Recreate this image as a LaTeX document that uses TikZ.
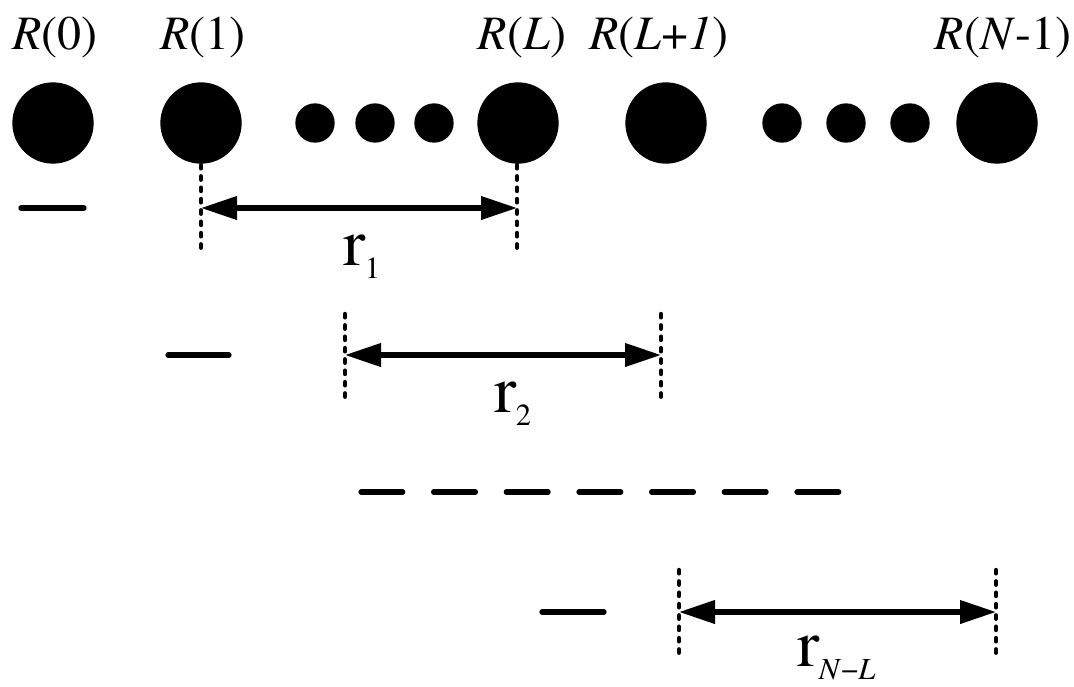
\documentclass[tikz,border=0pt]{standalone}
\usepackage{fontspec}
\setmainfont{texgyretermes}[Extension=.otf, UprightFont=*-regular, ItalicFont=*-italic, BoldFont=*-bold]
\usetikzlibrary{arrows.meta}

\tikzset{
  bigdot/.style={circle, fill=black, inner sep=0pt, minimum size=61pt},
  smalldot/.style={circle, fill=black, inner sep=0pt, minimum size=29.5pt},
  site label/.style={anchor=base, inner sep=0pt, font=\fontsize{36}{36}\selectfont},
  span label/.style={anchor=base west, inner sep=0pt},
  guide/.style={line width=3.3pt, line cap=round, dash pattern=on 2.5pt off 6pt},
  span/.style={line width=3.8pt, {Triangle[length=27pt,width=17pt]}-{Triangle[length=27pt,width=17pt]}},
  tick/.style={line width=4pt, line cap=round},
  rows/.style={line width=4pt, line cap=round, dash pattern=on 31.3pt off 23.2pt}
}
\newcommand{\spanlabel}[1]{{\fontsize{50}{50}\selectfont r}\kern-0.5pt\raisebox{-10pt}{\fontsize{23}{23}\selectfont #1}}

\begin{document}
\begin{tikzpicture}[x=0.75pt, y=-0.75pt]
    \useasboundingbox (0,0) rectangle (1074,686);
    % Sites of the chain
    \node[bigdot] (site 0) at (53,123) {};
    \node[bigdot] (site 1) at (201,123) {};
    \foreach \x [count=\i] in {315,375,434}
        \node[smalldot] (skip a\i) at (\x,123) {};
    \node[bigdot] (site L) at (518,123) {};
    \node[bigdot] (site L1) at (666,123) {};
    \foreach \x [count=\i] in {782,846,910}
        \node[smalldot] (skip b\i) at (\x,123) {};
    \node[bigdot] (site N) at (997,123) {};

    % Site labels
    \node[site label] (label 0) at (55,49) {\textit{R}(0)};
    \node[site label] (label 1) at (203,49) {\textit{R}(1)};
    \node[site label] (label L) at (522,49) {\textit{R}(\textit{L})};
    \node[site label] (label L1) at (659,49) {\textit{R}(\textit{L}+\textit{1})};
    \node[site label] (label N) at (1003,49) {\textit{R}(\textit{N}-1)};

    % First window
    \coordinate (span1 left) at (201,208);
    \coordinate (span1 right) at (517,208);
    \draw[tick] (21,208) -- (84,208);
    \draw[guide] (span1 left) ++(0,-43) -- ++(0,84);
    \draw[guide] (span1 right) ++(0,-43) -- ++(0,84);
    \draw[span] (span1 left) -- (span1 right);
    \node[span label] (r1) at (343,265) {\spanlabel{1}};

    % Second window
    \coordinate (span2 left) at (345,355);
    \coordinate (span2 right) at (661,355);
    \draw[tick] (168,355) -- (229,355);
    \draw[guide] (span2 left) ++(0,-41) -- ++(0,86);
    \draw[guide] (span2 right) ++(0,-41) -- ++(0,86);
    \draw[span] (span2 left) -- (span2 right);
    \node[span label] (r2) at (494,412) {\spanlabel{2}};

    % Further windows
    \draw[rows] (361,492) -- (839,492);

    % Last window
    \coordinate (span3 left) at (679,612);
    \coordinate (span3 right) at (996,612);
    \draw[tick] (542,612) -- (604,612);
    \draw[guide] (span3 left) ++(0,-42) -- ++(0,86);
    \draw[guide] (span3 right) ++(0,-42) -- ++(0,86);
    \draw[span] (span3 left) -- (span3 right);
    \node[span label] (rNL) at (797,666) {\spanlabel{\textit{N}−\textit{L}}};
\end{tikzpicture}
\end{document}
